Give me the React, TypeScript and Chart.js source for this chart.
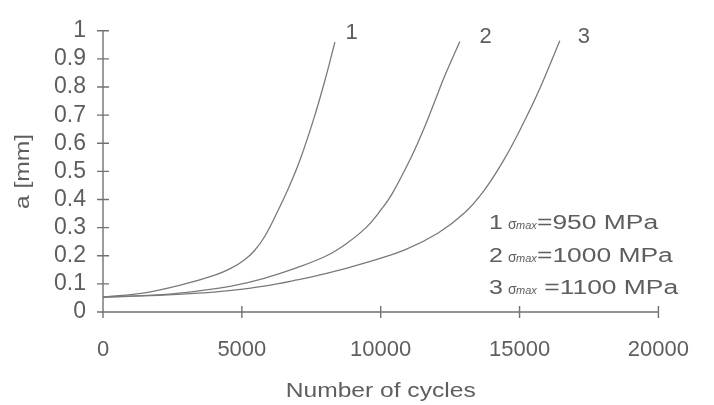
import { useEffect, useRef } from 'react';
import { Chart, registerables } from 'chart.js';

Chart.register(...registerables);

// Crack length a [mm] versus number of load cycles for three stress levels
const cycles950 = [0, 1500, 2850, 4030, 4600, 5100, 5450, 5800, 6250, 6690, 7100, 7630, 8050, 8350];
const crack950 = [0.053, 0.068, 0.097, 0.131, 0.155, 0.186, 0.218, 0.265, 0.35, 0.443, 0.542, 0.7, 0.845, 0.96];

const cycles1000 = [0, 2260, 3440, 4620, 5800, 6990, 8050, 8760, 9470, 10000, 10420, 11120, 11540, 11950, 12300, 12850];
const crack1000 = [0.053, 0.063, 0.075, 0.092, 0.12, 0.158, 0.2, 0.243, 0.3, 0.362, 0.422, 0.555, 0.648, 0.75, 0.838, 0.962];

const cycles1100 = [0, 2000, 3440, 4620, 5800, 6990, 8050, 9470, 10890, 12070, 13010, 13720, 14430, 15140, 15730, 16450];
const crack1100 = [0.053, 0.059, 0.067, 0.077, 0.092, 0.114, 0.137, 0.176, 0.222, 0.281, 0.352, 0.432, 0.54, 0.672, 0.795, 0.965];

// Curve numbers, their stress levels and where the numbers sit (data units)
const curveIds = ['1', '2', '3'];
const stressMPa = [950, 1000, 1100];
const tagCycles = [8950, 13780, 17320];
const tagCrack = [0.97, 0.958, 0.958];

const xTickValues = [0, 5000, 10000, 15000, 20000];
const xTickLabels = ['0', '5000', '10000', '15000', '20000'];
const yTickValues = [0, 0.1, 0.2, 0.3, 0.4, 0.5, 0.6, 0.7, 0.8, 0.9, 1];
const yTickLabels = ['0', '0.1', '0.2', '0.3', '0.4', '0.5', '0.6', '0.7', '0.8', '0.9', '1'];

const FONT = "'Liberation Sans', Arial, sans-serif";
const TEXT = '#5e5e5e';
const AXIS = '#727272';
const LINE = '#7a7a7a';

function wideText(ctx: CanvasRenderingContext2D, text: string, x: number, y: number, sx: number, align: CanvasTextAlign) {
  ctx.save();
  ctx.translate(x, y);
  ctx.scale(sx, 1);
  ctx.textAlign = align;
  ctx.fillText(text, 0, 0);
  ctx.restore();
}

const decorations = {
  id: 'crackDecorations',
  afterDraw(chart: any) {
    const { ctx, scales } = chart;
    const xs = scales.x;
    const ys = scales.y;
    const x0 = xs.getPixelForValue(0);
    const x1 = xs.getPixelForValue(20000);
    const y0 = ys.getPixelForValue(0);
    const y1 = ys.getPixelForValue(1);
    const t = 6;

    ctx.save();
    // axes with ticks crossing the axis line
    ctx.strokeStyle = AXIS;
    ctx.lineWidth = 1.4;
    ctx.beginPath();
    ctx.moveTo(x0, y0 + t);
    ctx.lineTo(x0, y1);
    ctx.moveTo(x0 - t, y0);
    ctx.lineTo(x1, y0);
    yTickValues.forEach((v) => {
      const py = ys.getPixelForValue(v);
      ctx.moveTo(x0 - t, py);
      ctx.lineTo(x0 + t, py);
    });
    xTickValues.forEach((v) => {
      const px = xs.getPixelForValue(v);
      ctx.moveTo(px, y0 - t);
      ctx.lineTo(px, y0 + t);
    });
    ctx.stroke();

    ctx.fillStyle = TEXT;
    ctx.textBaseline = 'alphabetic';

    // axis titles
    ctx.font = `20px ${FONT}`;
    wideText(ctx, 'Number of cycles', (x0 + x1) / 2, 397, 1.23, 'center');
    ctx.save();
    ctx.translate(29, (y0 + y1) / 2);
    ctx.rotate(-Math.PI / 2);
    wideText(ctx, 'a [mm]', 0, 0, 1.23, 'center');
    ctx.restore();

    // curve numbers at the top ends
    ctx.font = `22px ${FONT}`;
    curveIds.forEach((id, i) => {
      ctx.textAlign = 'center';
      ctx.fillText(id, xs.getPixelForValue(tagCycles[i]), ys.getPixelForValue(tagCrack[i]));
    });

    // stress level key
    const baselines = [229, 262, 294];
    curveIds.forEach((id, i) => {
      const by = baselines[i];
      ctx.font = `20px ${FONT}`;
      wideText(ctx, id, 489, by, 1.25, 'left');
      ctx.font = `14px ${FONT}`;
      ctx.textAlign = 'left';
      ctx.fillText('σ', 508, by);
      ctx.font = `italic 11px ${FONT}`;
      ctx.fillText('max', 516, by);
      ctx.font = `20px ${FONT}`;
      wideText(ctx, `${i === 2 ? ' ' : ''}=${stressMPa[i]} MPa`, 537, by, 1.32, 'left');
    });
    ctx.restore();
  },
};

export default function App() {
  const canvasRef = useRef<HTMLCanvasElement | null>(null);

  useEffect(() => {
    const canvas = canvasRef.current;
    if (!canvas) return;
    const series = [
      { cycles: cycles950, crack: crack950 },
      { cycles: cycles1000, crack: crack1000 },
      { cycles: cycles1100, crack: crack1100 },
    ];
    const chart = new Chart(canvas, {
      type: 'line',
      data: {
        datasets: series.map((s, i) => ({
          label: `${curveIds[i]} σmax=${stressMPa[i]} MPa`,
          data: s.cycles.map((c, k) => ({ x: c, y: s.crack[k] })),
          borderColor: LINE,
          borderWidth: 1.3,
          pointRadius: 0,
          fill: false,
          tension: 0.4,
        })),
      },
      options: {
        animation: false,
        responsive: false,
        events: [],
        layout: { padding: { top: 17, right: 47, left: 0, bottom: 0 } },
        plugins: {
          legend: { display: false },
          tooltip: { enabled: false },
        },
        scales: {
          x: {
            type: 'linear',
            min: 0,
            max: 20000,
            afterBuildTicks: (scale: any) => {
              scale.ticks = xTickValues.map((v) => ({ value: v }));
            },
            afterFit: (scale: any) => {
              scale.height = 93;
            },
            ticks: {
              autoSkip: false,
              maxRotation: 0,
              padding: 25,
              color: TEXT,
              font: { family: FONT, size: 22 },
              callback: (_v: any, i: number) => xTickLabels[i],
            },
            grid: { display: false, drawTicks: false },
            border: { display: false },
          },
          y: {
            type: 'linear',
            min: 0,
            max: 1,
            afterBuildTicks: (scale: any) => {
              scale.ticks = yTickValues.map((v) => ({ value: v }));
            },
            afterFit: (scale: any) => {
              scale.width = 103;
            },
            ticks: {
              autoSkip: false,
              padding: 17,
              color: TEXT,
              font: { family: FONT, size: 23 },
              callback: (_v: any, i: number) => yTickLabels[i],
            },
            grid: { display: false, drawTicks: false },
            border: { display: false },
          },
        },
      },
      plugins: [decorations],
    });
    return () => chart.destroy();
  }, []);

  return (
    <div style={{ position: 'absolute', left: 0, top: 0, width: 714, height: 405, background: '#fff' }}>
      <canvas ref={canvasRef} width={714} height={405} />
    </div>
  );
}
